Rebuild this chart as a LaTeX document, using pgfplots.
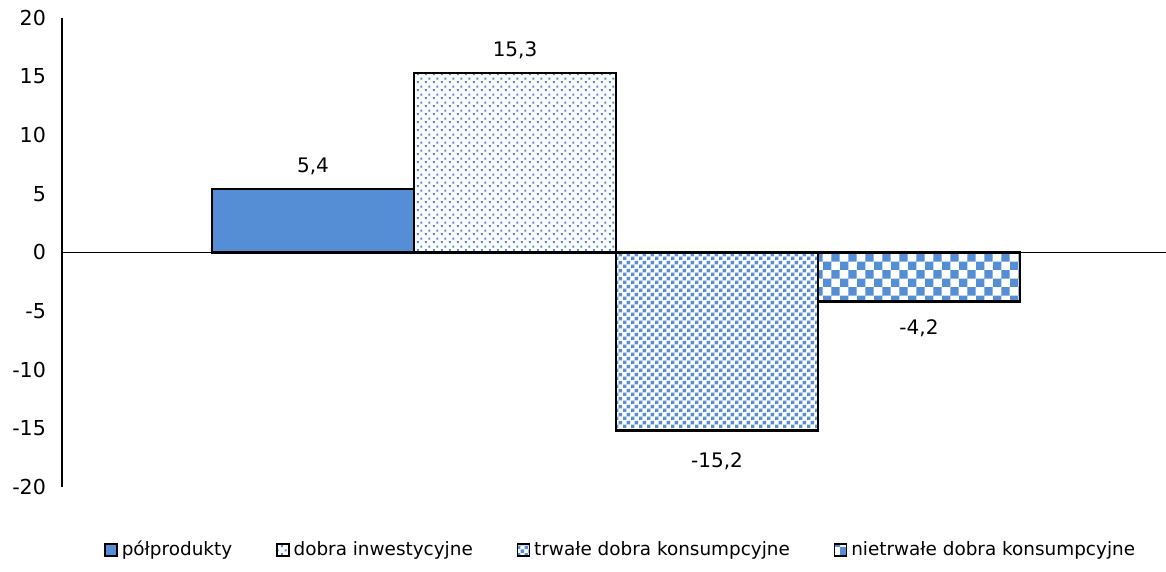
\documentclass[border=0pt]{standalone}
\usepackage{fontspec}
\setmainfont{DejaVu Sans}
\usepackage{pgfplots}
\pgfplotsset{compat=1.18}
\usetikzlibrary{patterns.meta,calc}

\definecolor{barblue}{RGB}{85,142,213}

% fine dots (dobra inwestycyjne)
\tikzdeclarepattern{
  name=finedots, type=uncolored,
  bounding box={(0pt,0pt) and (4pt,4pt)},
  tile size={(4pt,4pt)},
  code={
    \pgfpathrectangle{\pgfpoint{0.45pt}{0.45pt}}{\pgfpoint{1.1pt}{1.1pt}}
    \pgfpathrectangle{\pgfpoint{2.45pt}{2.45pt}}{\pgfpoint{1.1pt}{1.1pt}}
    \pgfusepath{fill}
  }
}
% larger squares (trwale dobra)
\tikzdeclarepattern{
  name=bigdots, type=uncolored,
  bounding box={(0pt,0pt) and (3.8pt,3.8pt)},
  tile size={(3.8pt,3.8pt)},
  code={
    \pgfpathrectangle{\pgfpoint{0.05pt}{0.05pt}}{\pgfpoint{1.75pt}{1.75pt}}
    \pgfpathrectangle{\pgfpoint{1.95pt}{1.95pt}}{\pgfpoint{1.75pt}{1.75pt}}
    \pgfusepath{fill}
  }
}
% checkerboard (nietrwale dobra)
\tikzdeclarepattern{
  name=checker, type=uncolored,
  bounding box={(0pt,0pt) and (8.4pt,8.4pt)},
  tile size={(8.4pt,8.4pt)},
  code={
    \pgfpathrectangle{\pgfpoint{0pt}{0pt}}{\pgfpoint{4.2pt}{4.2pt}}
    \pgfpathrectangle{\pgfpoint{4.2pt}{4.2pt}}{\pgfpoint{4.2pt}{4.2pt}}
    \pgfusepath{fill}
  }
}

\begin{document}
\fontsize{10}{12}\selectfont
\begin{tikzpicture}
\begin{axis}[
    name=ax,
    width=552pt, height=234.5pt, scale only axis,
    xmin=-0.743, xmax=4.723,
    ymin=-20, ymax=20,
    axis x line*=middle,
    axis y line*=left,
    axis line style={black, line width=0.6pt},
    xtick=\empty,
    ytick={-20,-15,...,20},
    ytick style={draw=none},
    yticklabel style={xshift=-4.5pt},
    ybar, bar width=1,
    tick label style={font=\fontsize{10.3}{12}\selectfont},
    /pgf/number format/assume math mode=true,
    nodes near coords,
    nodes near coords align={vertical},
    nodes near coords style={black, font=\fontsize{10}{12}\selectfont,
        /pgf/number format/use comma, /pgf/number format/fixed,
        /pgf/number format/fixed zerofill, /pgf/number format/precision=1},
    legend style={at={(0.507,-0.134)}, anchor=center, draw=none,
        font=\fontsize{9.2}{11}\selectfont,
        /tikz/every even column/.append style={column sep=20pt}},
    legend columns=4,
    legend image code/.code={\draw[#1, line width=0.7pt] (0pt,-3pt) rectangle (6pt,3pt);},
]
\addplot[bar shift=0pt, draw=black, line width=1.25pt, fill=barblue,
    every node near coord/.append style={yshift=3pt}]
    coordinates {(0.5,5.4)};
\addplot[bar shift=0pt, draw=black, line width=1.25pt, pattern={finedots}, pattern color=barblue,
    every node near coord/.append style={yshift=3pt}]
    coordinates {(1.5,15.3)};
\addplot[bar shift=0pt, draw=black, line width=1.25pt, pattern={bigdots}, pattern color=barblue,
    every node near coord/.append style={yshift=-7pt}]
    coordinates {(2.5,-15.2)};
\addplot[bar shift=0pt, draw=black, line width=1.25pt, pattern={checker}, pattern color=barblue,
    every node near coord/.append style={yshift=-5pt}]
    coordinates {(3.5,-4.2)};
\legend{półprodukty, dobra inwestycyjne, trwałe dobra konsumpcyjne, nietrwałe dobra konsumpcyjne}
\end{axis}
\pgfresetboundingbox
\path ($(ax.south west)+(-31pt,-42.5pt)$) rectangle ($(ax.north east)+(0pt,9pt)$);
\end{tikzpicture}
\end{document}
